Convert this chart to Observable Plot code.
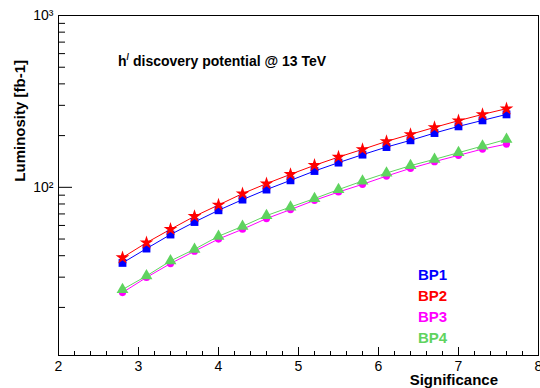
<!DOCTYPE html>
<html><head><meta charset="utf-8">
<script src="https://cdn.jsdelivr.net/npm/d3@7"></script>
<script src="https://cdn.jsdelivr.net/npm/@observablehq/plot@0.6"></script>
<style>
body{margin:0;background:#fff;}
svg{font-family:"Liberation Sans",Arial,Helvetica,sans-serif;}
</style>
</head><body><div id="chart"></div>
<script>
// ---- data ----
const significance = [2.8, 3.1, 3.4, 3.7, 4.0, 4.3, 4.6, 4.9, 5.2, 5.5, 5.8, 6.1, 6.4, 6.7, 7.0, 7.3, 7.6];
const bp1 = [36.3, 44.0, 53.1, 62.8, 73.5, 84.8, 97.0, 109.8, 124.4, 139.2, 154.9, 171.5, 187.7, 206.9, 226.3, 245.2, 265.7];
const bp2 = [39.0, 47.6, 57.0, 67.8, 78.9, 91.9, 105.1, 119.0, 134.3, 150.0, 166.3, 185.1, 203.3, 223.3, 244.3, 265.7, 286.9];
const bp3 = [24.4, 29.9, 36.0, 42.5, 50.0, 57.0, 65.8, 74.2, 84.0, 93.9, 104.1, 116.3, 129.0, 141.1, 153.5, 167.0, 178.5];
const bp4 = [25.4, 30.5, 37.3, 43.6, 51.9, 59.3, 68.5, 76.8, 86.0, 97.0, 108.8, 121.1, 133.7, 145.5, 159.1, 173.9, 190.1];

const seriesNames = ["BP1", "BP2", "BP3", "BP4"];
const seriesColors = ["#0000ff", "#ff0000", "#ff00ff", "#5fd35f"];
const seriesSymbols = ["square", "star", "circle", "triangle"];
const seriesValues = [bp1, bp2, bp3, bp4];

const xDomain = [2, 8];
const yDomain = [10.5, 1000];
const xMajorTicks = [2, 3, 4, 5, 6, 7, 8];
const xMajorLabels = ["2", "3", "4", "5", "6", "7", "8"];
const xMinorTicks = [2.2, 2.4, 2.6, 2.8, 3.2, 3.4, 3.6, 3.8, 4.2, 4.4, 4.6, 4.8, 5.2, 5.4, 5.6, 5.8, 6.2, 6.4, 6.6, 6.8, 7.2, 7.4, 7.6, 7.8];
const yMajorTicks = [100, 1000];
const yMajorLabels = ["10²", "10³"];
const yMinorTicks = [20, 30, 40, 50, 60, 70, 80, 90, 200, 300, 400, 500, 600, 700, 800, 900];

const titleMain = "h";
const titleSup = "/";
const titleRest = " discovery potential @ 13 TeV";
const xLabel = "Significance";
const yLabel = "Luminosity [fb-1]";

// ---- layout ----
const W = 540, H = 388, mL = 58, mR = 2, mT = 15, mB = 33;
const innerW = W - mL - mR, innerH = H - mT - mB;

// ---- table ----
const rows = [];
seriesNames.forEach((name, i) => {
  significance.forEach((s, j) => rows.push({series: name, s, lum: seriesValues[i][j]}));
});

const marks = [
  Plot.tickX(xMajorTicks, {x: d => d, stroke: "#000", insetTop: innerH - 8}),
  Plot.tickX(xMinorTicks, {x: d => d, stroke: "#000", insetTop: innerH - 4}),
  Plot.tickY(yMajorTicks, {y: d => d, stroke: "#000", insetRight: innerW - 14}),
  Plot.tickY(yMinorTicks, {y: d => d, stroke: "#000", insetRight: innerW - 7}),
  Plot.frame({stroke: "#000", strokeWidth: 1})
];
seriesNames.forEach((name, i) => {
  const data = rows.filter(d => d.series === name);
  marks.push(Plot.line(data, {x: "s", y: "lum", stroke: seriesColors[i], strokeWidth: 1}));
});
seriesNames.forEach((name, i) => {
  const data = rows.filter(d => d.series === name);
  const sym = seriesSymbols[i];
  marks.push(Plot.dot(data, {x: "s", y: "lum", symbol: () => sym, fill: seriesColors[i], stroke: "none",
    r: sym === "circle" ? 3.6 : sym === "star" ? 4.3 : 4.4}));
});

marks.push(
  Plot.axisX({ticks: xMajorTicks, tickSize: 0, tickPadding: 6, fontSize: 14, label: null, fill: "#000",
    tickFormat: d => xMajorLabels[xMajorTicks.indexOf(d)]}),
  Plot.axisY({ticks: yMajorTicks, tickSize: 0, tickPadding: 5, fontSize: 14, label: null, fill: "#000",
    tickFormat: d => yMajorLabels[yMajorTicks.indexOf(d)]})
);

const chart = Plot.plot({
  width: W, height: H,
  marginLeft: mL, marginRight: mR, marginTop: mT, marginBottom: mB,
  style: {fontFamily: '"Liberation Sans", Arial, sans-serif', background: "#fff", overflow: "visible"},
  x: {domain: xDomain, axis: null},
  y: {type: "log", domain: yDomain, axis: null},
  marks
});
document.getElementById("chart").appendChild(chart);

const svg = d3.select(chart);
// title
const t = svg.append("text").attr("x", 118).attr("y", 66).attr("text-anchor", "start")
  .attr("font-size", 14).attr("font-weight", "bold").attr("fill", "#000");
t.append("tspan").text(titleMain);
t.append("tspan").attr("font-size", 9).attr("dy", -6).text(titleSup);
t.append("tspan").attr("dy", 6).text(titleRest);
// axis titles
svg.append("text").attr("x", 498).attr("y", 385).attr("text-anchor", "end")
  .attr("font-size", 15).attr("font-weight", "bold").attr("fill", "#000").text(xLabel);
svg.append("text").attr("transform", "translate(25,60) rotate(-90)").attr("text-anchor", "end")
  .attr("font-size", 15).attr("font-weight", "bold").attr("fill", "#000").text(yLabel);
// legend
seriesNames.forEach((name, i) => {
  svg.append("text").attr("x", 418).attr("y", 280 + i * 21).attr("text-anchor", "start")
    .attr("font-size", 15).attr("font-weight", "bold").attr("fill", seriesColors[i]).text(name);
});
</script>
</body></html>
